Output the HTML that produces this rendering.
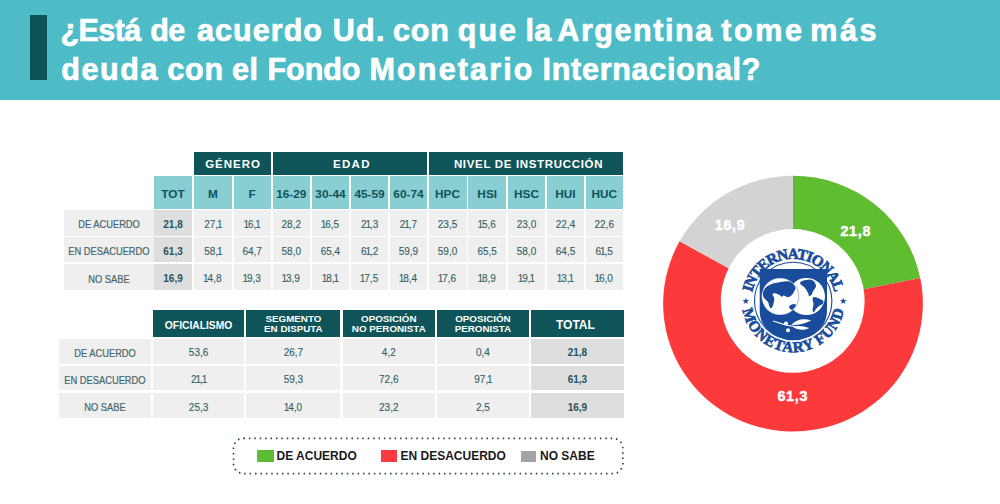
<!DOCTYPE html>
<html><head><meta charset="utf-8"><title>FMI</title>
<style>
html,body{margin:0;padding:0;background:#fff;}
body{width:1000px;height:504px;position:relative;overflow:hidden;font-family:"Liberation Sans",Arial,sans-serif;}
#p div{position:absolute;box-sizing:border-box;}
.c{display:flex;align-items:center;justify-content:center;text-align:center;white-space:nowrap;}
.t{color:#fff;font-weight:bold;font-size:30.5px;white-space:nowrap;line-height:1;-webkit-text-stroke:0.7px #fff;}
.lh{color:#0F5357;font-weight:bold;font-size:11.8px;padding-top:3px;}
.dh{color:#fff;font-weight:bold;font-size:11.5px;}
.n{color:#2F5E62;font-size:10px;padding-top:2.5px;-webkit-text-stroke:0.1px #2F5E62;}
.nb{color:#1F5458;font-size:10px;font-weight:bold;padding-top:2.5px;}
.b2{padding-top:3.5px;}
.n i{font-style:normal;margin:0 -1.1px;}
.lb{color:#44676B;font-size:10.3px;padding-top:4px;-webkit-text-stroke:0.2px #44676B;}
.lb span{display:inline-block;transform:scaleX(0.905);}
.bh{color:#fff;font-weight:bold;font-size:9.8px;line-height:9.8px;padding-top:1px;}
.lg{color:#1a1a1a;font-weight:bold;font-size:12px;white-space:nowrap;line-height:1;}
</style></head><body><div id="p">
<div style="left:0.0px;top:0.0px;width:1000.0px;height:100.0px;background:#4EBCC6;"></div>
<div style="left:30.0px;top:15.0px;width:17.0px;height:65.0px;background:#0C5257;"></div>
<div class="t" style="left:60.6px;top:15.0px;letter-spacing:-0.61px">¿Está</div>
<div class="t" style="left:150.3px;top:15.0px;letter-spacing:-0.70px">de</div>
<div class="t" style="left:197.1px;top:15.0px;letter-spacing:1.04px">acuerdo</div>
<div class="t" style="left:332.8px;top:15.0px;letter-spacing:1.22px">Ud.</div>
<div class="t" style="left:393.0px;top:15.0px;letter-spacing:0.88px">con</div>
<div class="t" style="left:457.8px;top:15.0px;letter-spacing:1.97px">que</div>
<div class="t" style="left:525.4px;top:15.0px;letter-spacing:0.45px">la</div>
<div class="t" style="left:557.3px;top:15.0px;letter-spacing:1.58px">Argentina</div>
<div class="t" style="left:721.2px;top:15.0px;letter-spacing:2.62px">tome</div>
<div class="t" style="left:810.2px;top:15.0px;letter-spacing:2.65px">más</div>
<div class="t" style="left:61.2px;top:54.0px;letter-spacing:1.60px">deuda</div>
<div class="t" style="left:167.2px;top:54.0px;letter-spacing:0.88px">con</div>
<div class="t" style="left:232.1px;top:54.0px;letter-spacing:0.40px">el</div>
<div class="t" style="left:267.5px;top:54.0px;letter-spacing:-0.04px">Fondo</div>
<div class="t" style="left:369.5px;top:54.0px;letter-spacing:2.16px">Monetario</div>
<div class="t" style="left:542.5px;top:54.0px;letter-spacing:0.73px">Internacional?</div>
<div class="c dh" style="left:194.0px;top:152.2px;width:77.0px;height:22.8px;background:#0E5458;letter-spacing:0.98px;padding-left:1px;">GÉNERO</div>
<div class="c dh" style="left:272.6px;top:152.2px;width:154.2px;height:22.8px;background:#0E5458;letter-spacing:1.37px;padding-left:4.5px;">EDAD</div>
<div class="c dh" style="left:428.5px;top:152.2px;width:194.1px;height:22.8px;background:#0E5458;letter-spacing:0.67px;padding-left:6px;">NIVEL DE INSTRUCCIÓN</div>
<div class="c lh" style="left:154.0px;top:176.0px;width:38.0px;height:32.7px;background:#88CED3;">TOT</div>
<div class="c lh" style="left:194.0px;top:176.0px;width:37.7px;height:32.7px;background:#88CED3;">M</div>
<div class="c lh" style="left:233.5px;top:176.0px;width:37.3px;height:32.7px;background:#88CED3;">F</div>
<div class="c lh" style="left:272.6px;top:176.0px;width:37.4px;height:32.7px;background:#88CED3;">16-29</div>
<div class="c lh" style="left:312.1px;top:176.0px;width:36.7px;height:32.7px;background:#88CED3;">30-44</div>
<div class="c lh" style="left:350.9px;top:176.0px;width:37.4px;height:32.7px;background:#88CED3;">45-59</div>
<div class="c lh" style="left:390.3px;top:176.0px;width:36.3px;height:32.7px;background:#88CED3;">60-74</div>
<div class="c lh" style="left:428.5px;top:176.0px;width:38.1px;height:32.7px;background:#88CED3;">HPC</div>
<div class="c lh" style="left:468.3px;top:176.0px;width:37.8px;height:32.7px;background:#88CED3;">HSI</div>
<div class="c lh" style="left:507.8px;top:176.0px;width:37.4px;height:32.7px;background:#88CED3;">HSC</div>
<div class="c lh" style="left:546.8px;top:176.0px;width:37.4px;height:32.7px;background:#88CED3;">HUI</div>
<div class="c lh" style="left:585.9px;top:176.0px;width:36.7px;height:32.7px;background:#88CED3;">HUC</div>
<div class="c lb" style="left:64.0px;top:210.4px;width:90.0px;height:25.2px;background:#EFEFEF;"><span>DE ACUERDO</span></div>
<div class="c nb" style="left:154.0px;top:210.4px;width:38.0px;height:25.2px;background:#DEDEDE;">21,8</div>
<div class="c n" style="left:194.0px;top:210.4px;width:37.7px;height:25.2px;background:#EFEFEF;">27,<i>1</i></div>
<div class="c n" style="left:233.5px;top:210.4px;width:37.3px;height:25.2px;background:#EFEFEF;"><i>1</i>6,<i>1</i></div>
<div class="c n" style="left:272.6px;top:210.4px;width:37.4px;height:25.2px;background:#EFEFEF;">28,2</div>
<div class="c n" style="left:312.1px;top:210.4px;width:36.7px;height:25.2px;background:#EFEFEF;"><i>1</i>6,5</div>
<div class="c n" style="left:350.9px;top:210.4px;width:37.4px;height:25.2px;background:#EFEFEF;">2<i>1</i>,3</div>
<div class="c n" style="left:390.3px;top:210.4px;width:36.3px;height:25.2px;background:#EFEFEF;">2<i>1</i>,7</div>
<div class="c n" style="left:428.5px;top:210.4px;width:38.1px;height:25.2px;background:#EFEFEF;">23,5</div>
<div class="c n" style="left:468.3px;top:210.4px;width:37.8px;height:25.2px;background:#EFEFEF;"><i>1</i>5,6</div>
<div class="c n" style="left:507.8px;top:210.4px;width:37.4px;height:25.2px;background:#EFEFEF;">23,0</div>
<div class="c n" style="left:546.8px;top:210.4px;width:37.4px;height:25.2px;background:#EFEFEF;">22,4</div>
<div class="c n" style="left:585.9px;top:210.4px;width:36.7px;height:25.2px;background:#EFEFEF;">22,6</div>
<div class="c lb" style="left:64.0px;top:237.4px;width:90.0px;height:25.0px;background:#EFEFEF;"><span>EN DESACUERDO</span></div>
<div class="c nb" style="left:154.0px;top:237.4px;width:38.0px;height:25.0px;background:#DEDEDE;">61,3</div>
<div class="c n" style="left:194.0px;top:237.4px;width:37.7px;height:25.0px;background:#EFEFEF;">58,<i>1</i></div>
<div class="c n" style="left:233.5px;top:237.4px;width:37.3px;height:25.0px;background:#EFEFEF;">64,7</div>
<div class="c n" style="left:272.6px;top:237.4px;width:37.4px;height:25.0px;background:#EFEFEF;">58,0</div>
<div class="c n" style="left:312.1px;top:237.4px;width:36.7px;height:25.0px;background:#EFEFEF;">65,4</div>
<div class="c n" style="left:350.9px;top:237.4px;width:37.4px;height:25.0px;background:#EFEFEF;">6<i>1</i>,2</div>
<div class="c n" style="left:390.3px;top:237.4px;width:36.3px;height:25.0px;background:#EFEFEF;">59,9</div>
<div class="c n" style="left:428.5px;top:237.4px;width:38.1px;height:25.0px;background:#EFEFEF;">59,0</div>
<div class="c n" style="left:468.3px;top:237.4px;width:37.8px;height:25.0px;background:#EFEFEF;">65,5</div>
<div class="c n" style="left:507.8px;top:237.4px;width:37.4px;height:25.0px;background:#EFEFEF;">58,0</div>
<div class="c n" style="left:546.8px;top:237.4px;width:37.4px;height:25.0px;background:#EFEFEF;">64,5</div>
<div class="c n" style="left:585.9px;top:237.4px;width:36.7px;height:25.0px;background:#EFEFEF;">6<i>1</i>,5</div>
<div class="c lb" style="left:64.0px;top:264.2px;width:90.0px;height:26.0px;background:#EFEFEF;"><span>NO SABE</span></div>
<div class="c nb" style="left:154.0px;top:264.2px;width:38.0px;height:26.0px;background:#DEDEDE;">16,9</div>
<div class="c n" style="left:194.0px;top:264.2px;width:37.7px;height:26.0px;background:#EFEFEF;"><i>1</i>4,8</div>
<div class="c n" style="left:233.5px;top:264.2px;width:37.3px;height:26.0px;background:#EFEFEF;"><i>1</i>9,3</div>
<div class="c n" style="left:272.6px;top:264.2px;width:37.4px;height:26.0px;background:#EFEFEF;"><i>1</i>3,9</div>
<div class="c n" style="left:312.1px;top:264.2px;width:36.7px;height:26.0px;background:#EFEFEF;"><i>1</i>8,<i>1</i></div>
<div class="c n" style="left:350.9px;top:264.2px;width:37.4px;height:26.0px;background:#EFEFEF;"><i>1</i>7,5</div>
<div class="c n" style="left:390.3px;top:264.2px;width:36.3px;height:26.0px;background:#EFEFEF;"><i>1</i>8,4</div>
<div class="c n" style="left:428.5px;top:264.2px;width:38.1px;height:26.0px;background:#EFEFEF;"><i>1</i>7,6</div>
<div class="c n" style="left:468.3px;top:264.2px;width:37.8px;height:26.0px;background:#EFEFEF;"><i>1</i>8,9</div>
<div class="c n" style="left:507.8px;top:264.2px;width:37.4px;height:26.0px;background:#EFEFEF;"><i>1</i>9,<i>1</i></div>
<div class="c n" style="left:546.8px;top:264.2px;width:37.4px;height:26.0px;background:#EFEFEF;"><i>1</i>3,<i>1</i></div>
<div class="c n" style="left:585.9px;top:264.2px;width:36.7px;height:26.0px;background:#EFEFEF;"><i>1</i>6,0</div>
<div class="c bh" style="left:152.9px;top:310.2px;width:91.4px;height:27.1px;background:#0E5458;font-size:10.3px;padding-top:5px;">OFICIALISMO</div>
<div class="c bh" style="left:246.3px;top:310.2px;width:94.2px;height:27.1px;background:#0E5458;">SEGMENTO<br>EN DISPUTA</div>
<div class="c bh" style="left:342.6px;top:310.2px;width:92.4px;height:27.1px;background:#0E5458;">OPOSICIÓN<br>NO PERONISTA</div>
<div class="c bh" style="left:436.9px;top:310.2px;width:92.1px;height:27.1px;background:#0E5458;">OPOSICIÓN<br>PERONISTA</div>
<div class="c bh" style="left:531.0px;top:310.2px;width:92.8px;height:27.1px;background:#0E5458;font-size:12px;padding-top:5px;padding-right:4px;">TOTAL</div>
<div class="c lb" style="left:58.6px;top:338.5px;width:92.4px;height:25.3px;background:#EFEFEF;"><span>DE ACUERDO</span></div>
<div class="c n b2" style="left:152.9px;top:338.5px;width:91.4px;height:25.3px;background:#EFEFEF;">53,6</div>
<div class="c n b2" style="left:246.3px;top:338.5px;width:94.2px;height:25.3px;background:#EFEFEF;">26,7</div>
<div class="c n b2" style="left:342.6px;top:338.5px;width:92.4px;height:25.3px;background:#EFEFEF;">4,2</div>
<div class="c n b2" style="left:436.9px;top:338.5px;width:92.1px;height:25.3px;background:#EFEFEF;">0,4</div>
<div class="c nb b2" style="left:531.0px;top:338.5px;width:92.8px;height:25.3px;background:#DEDEDE;">21,8</div>
<div class="c lb" style="left:58.6px;top:366.0px;width:92.4px;height:24.4px;background:#EFEFEF;"><span>EN DESACUERDO</span></div>
<div class="c n b2" style="left:152.9px;top:366.0px;width:91.4px;height:24.4px;background:#EFEFEF;">2<i>1</i>,<i>1</i></div>
<div class="c n b2" style="left:246.3px;top:366.0px;width:94.2px;height:24.4px;background:#EFEFEF;">59,3</div>
<div class="c n b2" style="left:342.6px;top:366.0px;width:92.4px;height:24.4px;background:#EFEFEF;">72,6</div>
<div class="c n b2" style="left:436.9px;top:366.0px;width:92.1px;height:24.4px;background:#EFEFEF;">97,<i>1</i></div>
<div class="c nb b2" style="left:531.0px;top:366.0px;width:92.8px;height:24.4px;background:#DEDEDE;">61,3</div>
<div class="c lb" style="left:58.6px;top:392.6px;width:92.4px;height:25.5px;background:#EFEFEF;"><span>NO SABE</span></div>
<div class="c n b2" style="left:152.9px;top:392.6px;width:91.4px;height:25.5px;background:#EFEFEF;">25,3</div>
<div class="c n b2" style="left:246.3px;top:392.6px;width:94.2px;height:25.5px;background:#EFEFEF;"><i>1</i>4,0</div>
<div class="c n b2" style="left:342.6px;top:392.6px;width:92.4px;height:25.5px;background:#EFEFEF;">23,2</div>
<div class="c n b2" style="left:436.9px;top:392.6px;width:92.1px;height:25.5px;background:#EFEFEF;">2,5</div>
<div class="c nb b2" style="left:531.0px;top:392.6px;width:92.8px;height:25.5px;background:#DEDEDE;">16,9</div>
<svg width="1000" height="504" style="position:absolute;left:0;top:0"><rect x="233.5" y="438.3" width="389.3" height="35.4" rx="10" ry="10" fill="none" stroke="#1E4A4C" stroke-width="1.7" stroke-dasharray="1.5 3.9"/></svg>
<div style="left:257.4px;top:450.4px;width:16.2px;height:11.4px;background:#5CBB35;"></div>
<div class="lg" style="left:276.5px;top:450px;">DE ACUERDO</div>
<div style="left:381.0px;top:450.4px;width:16.0px;height:11.2px;background:#F73B3E;"></div>
<div class="lg" style="left:400.5px;top:450px;">EN DESACUERDO</div>
<div style="left:520.5px;top:450.5px;width:15.7px;height:11.0px;background:#A3A3A3;"></div>
<div class="lg" style="left:540px;top:450px;">NO SABE</div>
<svg width="1000" height="504" viewBox="0 0 1000 504" style="position:absolute;left:0;top:0">
<path d="M793,303.6 L793.00,175.70 A129.85,127.9 0 0 1 920.23,278.06 Z" fill="#60BD30"/>
<path d="M793,303.6 L920.23,278.06 A129.85,127.9 0 1 1 679.61,241.28 Z" fill="#FD3A3B"/>
<path d="M793,303.6 L679.61,241.28 A129.85,127.9 0 0 1 793.00,175.70 Z" fill="#D3D3D3"/>
<circle cx="792.7" cy="300.9" r="71.9" fill="#fff"/>
<g font-family="Liberation Sans,Arial,sans-serif" font-weight="bold" font-size="14.3" letter-spacing="0.7" fill="#fff" stroke="#fff" stroke-width="0.45" text-anchor="middle">
<text x="855.8" y="236">21,8</text><text x="730.1" y="230.2">16,9</text><text x="792.8" y="401.4">61,3</text></g>
<g transform="translate(793.2,300.9)">
<defs><path id="arcT" d="M -42,0 A 42,42 0 0 1 42,0"/><path id="arcB" d="M -51.3,0 A 51.3,51.3 0 0 0 51.3,0"/><clipPath id="gl"><circle cx="-13" cy="-4.4" r="18.0"/></clipPath><clipPath id="gr"><circle cx="13.2" cy="-4.4" r="18.0"/></clipPath></defs>
<circle cx="0" cy="0" r="38.7" fill="none" stroke="#1A4C9C" stroke-width="1.1"/>
<path d="M -33.5,-32 L 33.8,-32 L 33.8,10 C 33.8,27 18,38.4 0,38.4 C -18,38.4 -33.5,27 -33.5,10 Z" fill="#1A4C9C"/>
<circle cx="13.2" cy="-4.4" r="18.6" fill="#fff"/>
<g fill="#1A4C9C" clip-path="url(#gr)"><path d="M7.5,-19.1 C8.3,-19.8 10.9,-20.4 12.6,-20.8 C14.3,-21.1 16.3,-21.5 17.7,-21.2 C19.1,-20.9 20.2,-20.2 21.1,-19.1 C22.0,-18.0 22.8,-16.1 22.8,-14.8 C22.8,-13.5 21.7,-12.4 21.1,-11.4 C20.5,-10.4 19.8,-9.7 19.4,-8.8 C19.0,-8.0 19.2,-7.0 18.6,-6.3 C18.0,-5.6 16.6,-4.5 16.0,-4.6 C15.4,-4.7 15.6,-6.1 15.2,-7.1 C14.8,-8.1 14.2,-9.3 13.5,-10.5 C12.8,-11.7 11.9,-13.0 10.9,-14.0 C9.9,-15.0 8.1,-15.7 7.5,-16.5 C6.9,-17.4 6.6,-18.4 7.5,-19.1 Z"/><path d="M20.3,-3.7 C21.2,-4.0 23.0,-3.5 24.6,-2.9 C26.2,-2.3 28.7,-1.2 29.7,-0.3 C30.7,0.6 31.1,1.4 30.5,2.3 C29.9,3.1 27.6,3.8 26.3,4.8 C25.0,5.8 23.8,7.0 22.8,8.2 C21.8,9.3 20.9,11.7 20.3,11.7 C19.7,11.7 19.4,9.6 19.4,8.2 C19.4,6.8 20.3,4.7 20.3,3.1 C20.3,1.5 19.4,-0.1 19.4,-1.2 C19.4,-2.3 19.4,-3.4 20.3,-3.7 Z"/></g>
<circle cx="-13" cy="-4.4" r="18.6" fill="#fff"/>
<g fill="#1A4C9C" clip-path="url(#gl)"><path d="M-30.1,-8.8 C-30.0,-9.9 -29.9,-10.0 -29.2,-11.0 C-28.5,-12.0 -26.9,-13.9 -25.8,-14.8 C-24.7,-15.7 -23.7,-16.0 -22.4,-16.5 C-21.1,-17.0 -19.5,-17.4 -18.1,-17.8 C-16.7,-18.2 -15.6,-18.4 -13.9,-18.7 C-12.2,-19.0 -9.8,-19.4 -7.9,-19.5 C-6.1,-19.6 -4.2,-19.5 -2.8,-19.1 C-1.4,-18.8 -0.2,-18.4 0.7,-17.4 C1.6,-16.4 2.4,-14.5 2.4,-13.1 C2.4,-11.7 1.3,-9.9 0.7,-8.8 C0.1,-7.7 -0.4,-7.0 -1.0,-6.3 C-1.6,-5.6 -2.1,-5.0 -2.8,-4.6 C-3.5,-4.2 -4.5,-3.7 -5.3,-3.7 C-6.1,-3.7 -7.2,-4.3 -7.9,-4.6 C-8.6,-4.9 -9.0,-5.5 -9.6,-5.4 C-10.2,-5.3 -10.7,-4.1 -11.3,-4.1 C-11.9,-4.1 -12.4,-5.0 -13.0,-5.4 C-13.6,-5.8 -13.8,-5.9 -14.7,-6.3 C-15.5,-6.7 -17.1,-7.5 -18.1,-7.6 C-19.1,-7.7 -20.6,-7.5 -20.7,-6.7 C-20.8,-5.9 -19.2,-4.2 -19.0,-2.9 C-18.8,-1.6 -19.1,-0.0 -19.4,1.4 C-19.7,2.8 -20.2,4.7 -20.7,5.7 C-21.2,6.7 -21.8,7.6 -22.4,7.4 C-23.0,7.2 -23.7,5.8 -24.1,4.8 C-24.5,3.8 -24.4,2.4 -25.0,1.4 C-25.6,0.4 -26.6,-0.2 -27.5,-1.2 C-28.4,-2.2 -29.7,-3.3 -30.1,-4.6 C-30.5,-5.9 -30.2,-7.7 -30.1,-8.8 Z"/><path d="M-3.6,4.8 C-2.9,4.1 -0.4,3.1 0.7,3.1 C1.8,3.1 2.9,3.9 3.2,4.8 C3.5,5.6 3.1,7.5 2.4,8.2 C1.7,8.9 0.0,9.2 -1.0,9.1 C-2.0,9.0 -3.2,8.1 -3.6,7.4 C-4.0,6.7 -4.3,5.5 -3.6,4.8 Z"/></g>
<circle cx="-13" cy="-4.4" r="18.6" fill="none" stroke="#1A4C9C" stroke-width="0.8" stroke-opacity="0.5"/>
<path d="M -5.4,-4.4 A 18.6,18.6 0 0 1 3.9,-20.5" fill="none" stroke="#1A4C9C" stroke-width="0.8" stroke-opacity="0.5"/>
<g fill="#fff"><path d="M -20.2,19.6 C -12,22 -5,24.5 2,25 L 2,26 C -6,25.5 -13,23 -20.2,20.6 Z"/><path d="M -2,24 C 3,18.5 10,17 18,19.5 C 12,22.5 5,24.5 -2,24 Z"/><path d="M -1,25.5 C 4,29 11,30 16,27 C 11,25 5,24.5 -1,25.5 Z"/><circle cx="-7.2" cy="22.6" r="2"/><circle cx="-5.2" cy="29.4" r="2"/></g>
<g font-family="Liberation Serif,serif" font-weight="bold" font-size="15.3" fill="#1A4C9C" stroke="#1A4C9C" stroke-width="0.65"><text><textPath href="#arcT" startOffset="50%" text-anchor="middle" textLength="115" lengthAdjust="spacing">INTERNATIONAL</textPath></text><text><textPath href="#arcB" startOffset="50%" text-anchor="middle" textLength="143" lengthAdjust="spacing">MONETARY FUND</textPath></text></g>
<g font-family="DejaVu Sans,sans-serif" font-size="8.8" fill="#1A4C9C" text-anchor="middle"><text x="-47.5" y="2.9">★</text><text x="50.1" y="2.9">★</text></g>
</g>
</svg></div></body></html>
